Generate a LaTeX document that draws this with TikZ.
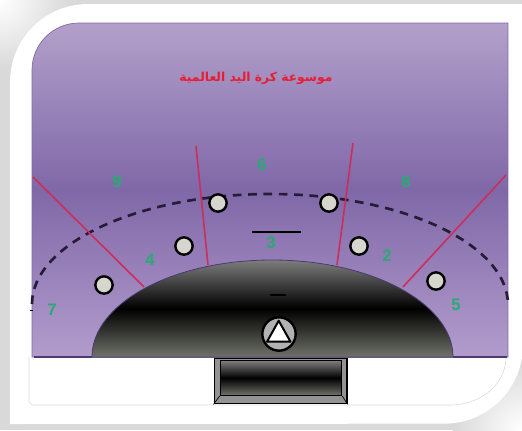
\documentclass[tikz,border=0pt]{standalone}
\usepackage{xcolor}
\usepackage{fontspec}
\setmainfont{Liberation Sans}
\newfontfamily\arabicfont[Script=Arabic]{DejaVu Sans}
\TeXXeTstate=1
\definecolor{framegray}{RGB}{217,217,217}
\definecolor{courttop}{RGB}{178,160,202}
\definecolor{courtmid}{RGB}{128,104,168}
\definecolor{courtbot}{RGB}{178,156,204}
\definecolor{courtline}{RGB}{74,58,112}
\definecolor{zonered}{RGB}{205,45,90}
\definecolor{numgreen}{RGB}{40,170,115}
\definecolor{titlered}{RGB}{232,28,50}
\definecolor{seatfill}{RGB}{214,214,206}
\definecolor{areatop}{RGB}{125,125,125}
\definecolor{areabot}{RGB}{112,114,106}

\begin{document}
\begin{tikzpicture}[
    x=0.75pt, y=-0.75pt,
    seat/.style={circle, draw=black, line width=1.8pt, fill=seatfill,
                 minimum size=13pt, inner sep=0pt},
    num/.style={font=\bfseries\fontsize{12.5}{13}\selectfont, text=numgreen, inner sep=0pt},
    zone/.style={draw=zonered, line width=1.2pt},
    bar/.style={draw=black, line width=1.5pt}
]
\useasboundingbox (0,0) rectangle (522,430);

% Frame
\fill[framegray] (0,0) rectangle (522,430);
\begin{scope}
\clip (0,0) rectangle (522,430);
\shade[inner color=white, outer color=framegray] (0,0) circle (52pt);
\shade[inner color=white, outer color=framegray] (522,430) circle (52pt);
\end{scope}
\fill[white] (10,82) arc[start angle=180, end angle=90, radius=58.5pt]
    -- (523,4) -- (523,345) arc[start angle=0, end angle=-90, radius=59pt]
    -- (10,424) -- cycle;
\draw[framegray, line width=0.4pt] (29,357) -- (29,402) -- (32,405) -- (450,405)
    .. controls (481,405) and (506,384) .. (506,357);

% Court
\path[top color=courttop, bottom color=courtbot, middle color=courtmid, draw=courtmid, line width=0.5pt]
    (32,70) arc[start angle=180, end angle=90, radius=35.25pt]
    -- (508,23) -- (508,357) -- (32,357) -- cycle;
\draw[courtline, line width=1.2pt] (34,357) -- (507,357);

% Goal
\node[draw=black, line width=1pt, fill=gray!85, minimum width=99.5pt, minimum height=34pt,
      inner sep=0pt] (goal) at (280.5,381) {};
\node[draw=black, line width=1pt, top color=areatop, bottom color=areabot, middle color=black,
      minimum width=91pt, minimum height=26pt, inner sep=0pt] (net) at (281,378) {};
\draw[black, line width=0.5pt] (net.south west) -- (goal.south west);
\draw[black, line width=0.5pt] (net.south east) -- (goal.south east);

% Goal area
\path[top color=areatop, bottom color=areabot, middle color=black, draw=courtline, line width=0.6pt]
    (92,357) .. controls (92,303.4) and (172.3,260) .. (272,260)
    .. controls (371.7,260) and (453,303.4) .. (453,357) -- cycle;
\draw[courtline!50!gray, line width=1pt] (92,357) -- (453,357);

% Dashed line
\draw[courtline!50!black, line width=2pt, dash pattern=on 6.5pt off 5pt]
    (32,304) .. controls (32,243.7) and (138.6,194) .. (270,194)
    .. controls (401.4,194) and (508,243.7) .. (508,305);

% Zone lines
\coordinate (z1a) at (33,177);   \coordinate (z1b) at (144,287);
\coordinate (z2a) at (196,146);  \coordinate (z2b) at (208,265);
\coordinate (z3a) at (353,143);  \coordinate (z3b) at (337,265);
\coordinate (z4a) at (506,175);  \coordinate (z4b) at (403,287);
\draw[zone] (z1a) -- (z1b);
\draw[zone] (z2a) -- (z2b);
\draw[zone] (z3a) -- (z3b);
\draw[zone] (z4a) -- (z4b);

% Players
\node[seat] (p1) at (104,285) {};
\node[seat] (p2) at (184,246) {};
\node[seat] (p3) at (218,203) {};
\node[seat] (p4) at (329,203) {};
\node[seat] (p5) at (359,246) {};
\node[seat] (p6) at (436,281) {};

% Numbers
\node[num] (n9) at (117,182) {9};
\node[num] (n6) at (262,165) {6};
\node[num] (n8) at (406,182) {8};
\node[num] (n4) at (150,260) {4};
\node[num] (n3) at (271,243) {3};
\node[num] (n2) at (387,256) {2};
\node[num] (n7) at (52,310) {7};
\node[num] (n5) at (456,305) {5};

% Marks
\coordinate (m1a) at (252,232); \coordinate (m1b) at (301,232);
\coordinate (m2a) at (270,295); \coordinate (m2b) at (286,295);
\coordinate (m3a) at (30,310);  \coordinate (m3b) at (33,310);
\draw[bar] (m1a) -- (m1b);
\draw[bar] (m2a) -- (m2b);
\draw[black, line width=0.4pt] (m3a) -- (m3b);

% Keeper
\node[circle, draw=black, line width=1.8pt, fill=gray!60, minimum size=25pt, inner sep=0pt] (keeper) at (279,334) {};
\draw[black, line width=1.5pt, fill=white, line join=round] (278.7,320.7) -- (290.5,341.7) -- (267,341.7) -- cycle;

% Title
\node[font=\arabicfont\bfseries\fontsize{9.25}{11}\selectfont, text=titlered, inner sep=0pt] (title) at (256,78)
    {\beginR موسوعة كرة اليد العالمية\endR};
\end{tikzpicture}
\end{document}
